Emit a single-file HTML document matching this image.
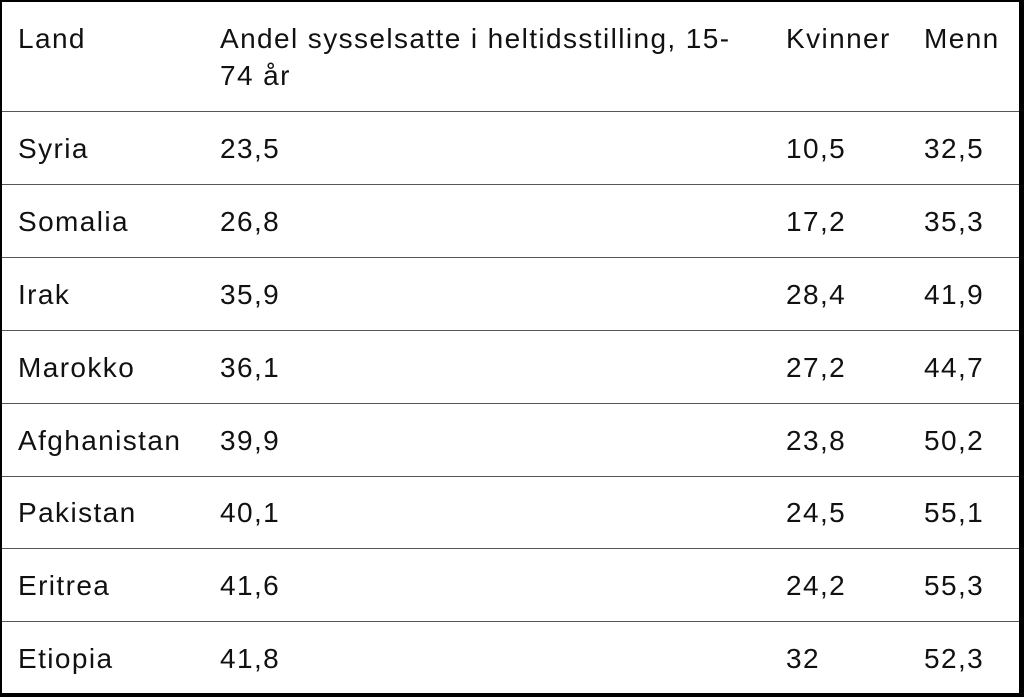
<!DOCTYPE html>
<html><head><meta charset="utf-8"><style>
html,body{margin:0;padding:0;background:#fff;}
body{width:1024px;height:697px;position:relative;overflow:hidden;font-family:"Liberation Sans",sans-serif;font-size:28px;letter-spacing:1.4px;color:#111;}
.b{position:absolute;background:#000;}
.h{position:absolute;left:2px;right:5px;height:1px;background:#555;}
.t{position:absolute;white-space:nowrap;line-height:30px;}
</style></head><body>
<div class="b" style="left:0;top:0;width:1024px;height:2px"></div>
<div class="b" style="left:0;top:0;width:2px;height:697px"></div>
<div class="b" style="left:1019px;top:0;width:5px;height:697px"></div>
<div class="b" style="left:0;top:693px;width:1024px;height:4px"></div>
<div class="h" style="top:111px"></div>
<div class="h" style="top:184px"></div>
<div class="h" style="top:257px"></div>
<div class="h" style="top:330px"></div>
<div class="h" style="top:403px"></div>
<div class="h" style="top:476px"></div>
<div class="h" style="top:548px"></div>
<div class="h" style="top:621px"></div>
<div class="t" style="left:18px;top:24px">Land</div>
<div class="t" style="left:220px;top:24px">Andel sysselsatte i heltidsstilling, 15-</div>
<div class="t" style="left:220px;top:61px">74 år</div>
<div class="t" style="left:786px;top:24px">Kvinner</div>
<div class="t" style="left:924px;top:24px">Menn</div>
<div class="t" style="left:18px;top:134px">Syria</div><div class="t" style="left:220px;top:134px">23,5</div><div class="t" style="left:786px;top:134px">10,5</div><div class="t" style="left:924px;top:134px">32,5</div>
<div class="t" style="left:18px;top:207px">Somalia</div><div class="t" style="left:220px;top:207px">26,8</div><div class="t" style="left:786px;top:207px">17,2</div><div class="t" style="left:924px;top:207px">35,3</div>
<div class="t" style="left:18px;top:280px">Irak</div><div class="t" style="left:220px;top:280px">35,9</div><div class="t" style="left:786px;top:280px">28,4</div><div class="t" style="left:924px;top:280px">41,9</div>
<div class="t" style="left:18px;top:353px">Marokko</div><div class="t" style="left:220px;top:353px">36,1</div><div class="t" style="left:786px;top:353px">27,2</div><div class="t" style="left:924px;top:353px">44,7</div>
<div class="t" style="left:18px;top:426px">Afghanistan</div><div class="t" style="left:220px;top:426px">39,9</div><div class="t" style="left:786px;top:426px">23,8</div><div class="t" style="left:924px;top:426px">50,2</div>
<div class="t" style="left:18px;top:498px">Pakistan</div><div class="t" style="left:220px;top:498px">40,1</div><div class="t" style="left:786px;top:498px">24,5</div><div class="t" style="left:924px;top:498px">55,1</div>
<div class="t" style="left:18px;top:571px">Eritrea</div><div class="t" style="left:220px;top:571px">41,6</div><div class="t" style="left:786px;top:571px">24,2</div><div class="t" style="left:924px;top:571px">55,3</div>
<div class="t" style="left:18px;top:644px">Etiopia</div><div class="t" style="left:220px;top:644px">41,8</div><div class="t" style="left:786px;top:644px">32</div><div class="t" style="left:924px;top:644px">52,3</div>
</body></html>
